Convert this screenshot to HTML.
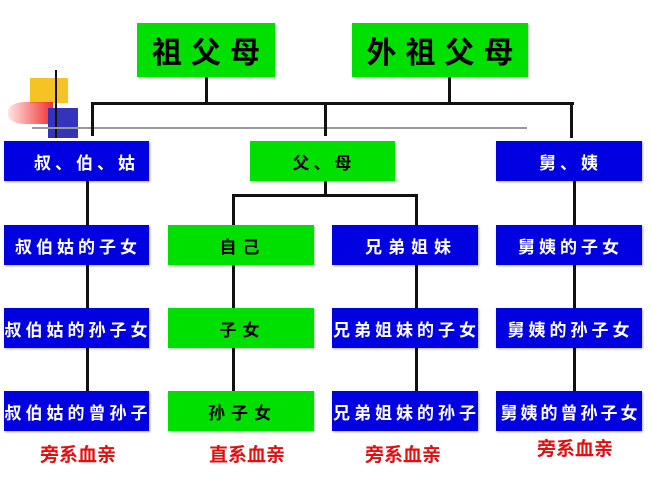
<!DOCTYPE html>
<html><head><meta charset="utf-8"><style>
html,body{margin:0;padding:0;}
body{width:652px;height:489px;position:relative;background:#fff;overflow:hidden;font-family:"Liberation Sans","Noto Sans CJK SC","WenQuanYi Zen Hei",sans-serif;}
.b{position:absolute;display:flex;align-items:center;justify-content:center;font-weight:bold;white-space:nowrap;box-shadow:1px 1px 2px rgba(0,0,0,0.3);font-size:17px;letter-spacing:3px;text-indent:3px;}
.g{background:#00e000;color:#000;}
.u{background:#0000e0;color:#fff;}
.l{position:absolute;background:#111;}
.r{position:absolute;color:#e01010;font-weight:bold;font-size:19px;width:146px;text-align:center;}
</style></head><body>
<div style="position:absolute;left:30px;top:78px;width:38px;height:25px;background:#f5b800;opacity:.85"></div>
<div style="position:absolute;left:8px;top:102px;width:45px;height:22px;background:linear-gradient(90deg,rgba(255,120,120,0.2),#f03030);border-radius:40% 0 0 40%"></div>
<div style="position:absolute;left:48px;top:108px;width:30px;height:30px;background:#3333bb"></div>
<div class="l" style="left:55px;top:70px;width:2px;height:68px"></div>
<div style="position:absolute;left:32px;top:127px;width:495px;height:2px;background:#999"></div>

<div class="b g" style="left:137px;top:23px;width:138px;height:54px;font-size:30px;letter-spacing:9px;text-indent:9px">祖父母</div>
<div class="b g" style="left:352px;top:23px;width:176px;height:54px;font-size:30px;letter-spacing:9px;text-indent:9px">外祖父母</div>

<div class="l" style="left:205px;top:77px;width:3px;height:27px"></div>
<div class="l" style="left:448px;top:77px;width:3px;height:27px"></div>
<div class="l" style="left:91px;top:102px;width:483px;height:3px"></div>
<div class="l" style="left:91px;top:102px;width:3px;height:34px"></div>
<div class="l" style="left:324px;top:102px;width:3px;height:34px"></div>
<div class="l" style="left:570px;top:102px;width:3px;height:36px"></div>

<div class="b u" style="left:4px;top:141px;width:145px;height:40px;letter-spacing:4px;text-indent:20px">叔、伯、姑</div>
<div class="b g" style="left:250px;top:141px;width:145px;height:40px;letter-spacing:4px">父、母</div>
<div class="b u" style="left:496px;top:141px;width:146px;height:40px;letter-spacing:4px">舅、姨</div>

<div class="l" style="left:324px;top:181px;width:3px;height:15px"></div>
<div class="l" style="left:232px;top:194px;width:186px;height:3px"></div>
<div class="l" style="left:232px;top:194px;width:3px;height:32px"></div>
<div class="l" style="left:415px;top:194px;width:3px;height:32px"></div>

<div class="l" style="left:86px;top:181px;width:3px;height:46px"></div>
<div class="l" style="left:573px;top:181px;width:3px;height:46px"></div>
<div class="l" style="left:86px;top:264px;width:3px;height:44px"></div>
<div class="l" style="left:232px;top:264px;width:3px;height:44px"></div>
<div class="l" style="left:415px;top:264px;width:3px;height:44px"></div>
<div class="l" style="left:573px;top:264px;width:3px;height:44px"></div>
<div class="l" style="left:86px;top:347px;width:3px;height:44px"></div>
<div class="l" style="left:232px;top:340px;width:3px;height:51px"></div>
<div class="l" style="left:415px;top:347px;width:3px;height:44px"></div>
<div class="l" style="left:573px;top:347px;width:3px;height:44px"></div>

<div class="b u" style="left:4px;top:225px;width:145px;height:40px;letter-spacing:4px">叔伯姑的子女</div>
<div class="b g" style="left:168px;top:225px;width:146px;height:40px;letter-spacing:6px">自己</div>
<div class="b u" style="left:332px;top:225px;width:146px;height:40px;letter-spacing:6px;text-indent:12px">兄弟姐妹</div>
<div class="b u" style="left:496px;top:225px;width:146px;height:40px;letter-spacing:4px">舅姨的子女</div>

<div class="b u" style="left:4px;top:308px;width:145px;height:40px;letter-spacing:4px">叔伯姑的孙子女</div>
<div class="b g" style="left:168px;top:308px;width:146px;height:40px;letter-spacing:6px">子女</div>
<div class="b u" style="left:332px;top:308px;width:146px;height:40px;letter-spacing:4px">兄弟姐妹的子女</div>
<div class="b u" style="left:496px;top:308px;width:146px;height:40px;letter-spacing:4px">舅姨的孙子女</div>

<div class="b u" style="left:4px;top:391px;width:145px;height:40px;letter-spacing:4px">叔伯姑的曾孙子</div>
<div class="b g" style="left:168px;top:391px;width:146px;height:40px;letter-spacing:6px">孙子女</div>
<div class="b u" style="left:332px;top:391px;width:146px;height:40px;letter-spacing:4px">兄弟姐妹的孙子</div>
<div class="b u" style="left:496px;top:391px;width:146px;height:40px;letter-spacing:3px">舅姨的曾孙子女</div>

<div class="r" style="left:5px;top:440px">旁系血亲</div>
<div class="r" style="left:174px;top:440px">直系血亲</div>
<div class="r" style="left:330px;top:440px">旁系血亲</div>
<div class="r" style="left:502px;top:434px">旁系血亲</div>
</body></html>
